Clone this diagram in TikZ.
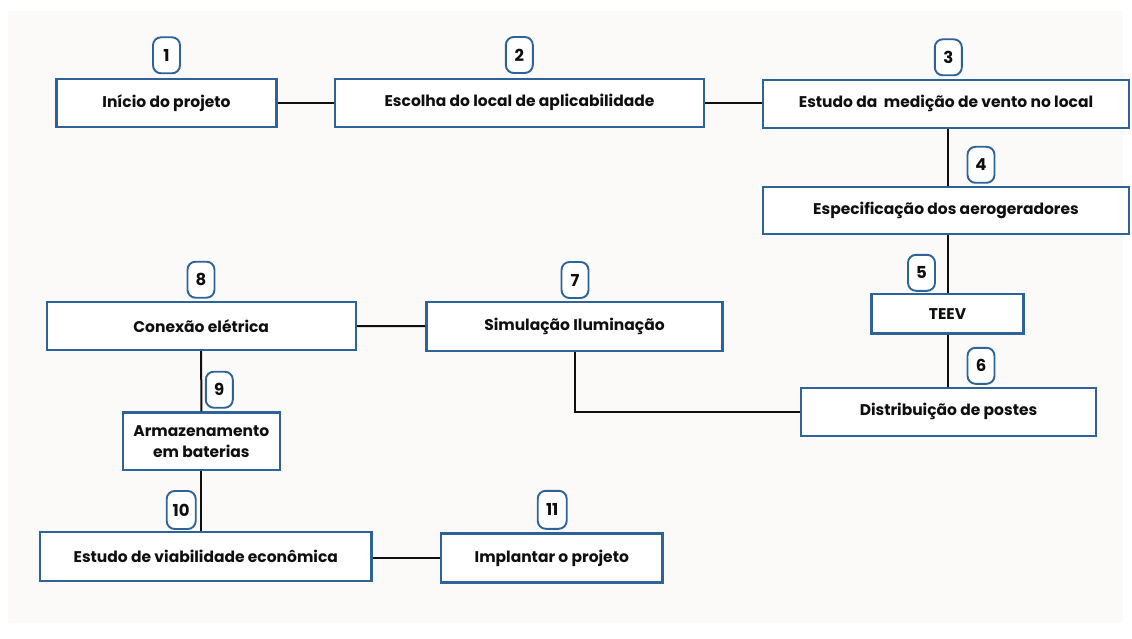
\documentclass[tikz,border=0pt]{standalone}
\usepackage{fontspec}
\setmainfont{Poppins}
\definecolor{boxblue}{HTML}{2D6399}
\definecolor{bggray}{HTML}{FBFAF9}
\definecolor{ink}{HTML}{0F0F0F}
\begin{document}
\begin{tikzpicture}[x=1pt,y=-1pt,
  stepbox/.style={draw=boxblue, line width=2.3pt, fill=white, inner sep=0pt,
    font=\bfseries\fontsize{15.5}{18}\selectfont, text=ink, align=center},
  badge/.style={draw=boxblue, line width=1.9pt, fill=white, rounded corners=8pt,
    inner sep=0pt, minimum width=27pt, minimum height=36pt,
    font=\bfseries\fontsize{16.5}{18}\selectfont, text=ink},
  link/.style={draw=ink, line width=2pt}]
\useasboundingbox (0,0) rectangle (1132,639);
\fill[white] (0,0) rectangle (1132,639);
\fill[bggray] (8,11) rectangle (1123,623);
% boxes
\node[stepbox, minimum width=220pt, minimum height=48pt] (b1) at (166.5,102.7) {Início do projeto};
\node[stepbox, minimum width=369pt, minimum height=48pt] (b2) at (519.5,102.7) {Escolha do local de aplicabilidade};
\node[stepbox, minimum width=366pt, minimum height=48pt] (b3) at (946,103.8) {Estudo da\ \ medição de vento no local};
\node[stepbox, minimum width=366pt, minimum height=47pt] (b4) at (946,210.3) {Especificação dos aerogeradores};
\node[stepbox, minimum width=152pt, minimum height=39.5pt] (b5) at (947.5,313.7) {TEEV};
\node[stepbox, minimum width=295pt, minimum height=48pt] (b6) at (948.5,411.8) {Distribuição de postes};
\node[stepbox, minimum width=296pt, minimum height=49pt] (b7) at (574.5,326.2) {Simulação Iluminação};
\node[stepbox, minimum width=309pt, minimum height=48pt] (b8) at (201.2,326) {Conexão elétrica};
\node[stepbox, minimum width=157pt, minimum height=57.5pt, font=\bfseries\fontsize{15.5}{21}\selectfont] (b9) at (201.3,441.2) {Armazenamento\\em baterias};
\node[stepbox, minimum width=331.5pt, minimum height=49pt] (b10) at (205.8,556.2) {Estudo de viabilidade econômica};
\node[stepbox, minimum width=221.5pt, minimum height=49pt] (b11) at (551.8,558) {Implantar o projeto};
% connectors
\coordinate (tx) at (948,0);
\draw[link] (b1.east) -- (b2.west);
\draw[link] (b2.east) -- (b2.east -| b3.west);
\draw[link] (b3.south -| tx) -- (b4.north -| tx);
\draw[link] (b4.south -| tx) -- (b5.north -| tx);
\draw[link] (b5.south -| tx) -- (b6.north -| tx);
\draw[link] (b7.south) |- (b6.west);
\draw[link] (b8.east) -- (b7.west);
\draw[link] (b8.south) -- (b9.north);
\draw[link] (b9.south) -- (b9.south |- b10.north);
\draw[link] (b11.west -| b10.east) -- (b11.west);
% badges
\node[badge] (n1) at (166.5,55.3) {1};
\node[badge] (n2) at (519.3,55) {2};
\node[badge] (n3) at (948.3,57.3) {3};
\node[badge] (n4) at (981,164.8) {4};
\node[badge] (n5) at (921.5,272.8) {5};
\node[badge] (n6) at (981,365.8) {6};
\node[badge] (n7) at (575,280) {7};
\node[badge] (n8) at (201,279.7) {8};
\node[badge] (n9) at (219.3,389.7) {9};
\node[badge, minimum width=29pt, minimum height=38pt] (n10) at (181.2,510) {10};
\node[badge, minimum width=29pt, minimum height=38pt] (n11) at (552.2,509.8) {11};
\end{tikzpicture}
\end{document}
